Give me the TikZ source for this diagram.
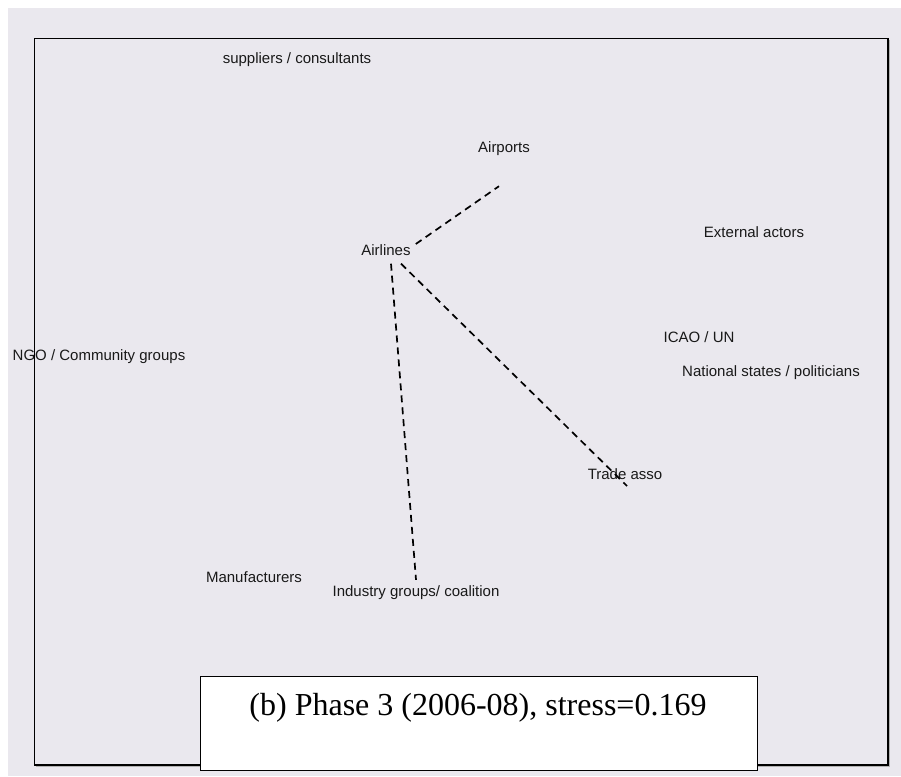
\documentclass[tikz,border=0pt]{standalone}
\usepackage{fontspec}
\setmainfont{Liberation Sans}
\newfontfamily\captionserif{Liberation Serif}
\definecolor{panelgray}{RGB}{234,232,238}
\definecolor{labelink}{RGB}{25,25,25}
\begin{document}
\begin{tikzpicture}[x=1pt,y=-1pt,
  actor/.style={inner sep=0pt,text=labelink,font=\fontsize{15}{18}\selectfont},
  tie/.style={line width=1.7pt,dash pattern=on 7pt off 5pt},
  frame/.style={draw=black,line width=1.4pt}]
% page and plotting panel
\useasboundingbox (0,0) rectangle (901,776);
\fill[white] (0,0) rectangle (901,776);
\fill[panelgray] (8,8) rectangle (901,776);
\draw[frame] (34.5,38.5) rectangle (888,765);
\draw[gray!60,line width=1pt] (889.5,40) -- (889.5,766.5) -- (36,766.5);

% actor labels
\node[actor] (sup) at (297,60) {suppliers / consultants};
\node[actor] (ap)  at (504,149) {Airports};
\node[actor] (al)  at (386,250) {Airlines};
\node[actor] (ext) at (754,232) {External actors};
\node[actor] (icao) at (699,337) {ICAO / UN};
\node[actor] (nat) at (771,373) {National states / politicians};
\node[actor] (ngo) at (99,357) {NGO / Community groups};
\node[actor] (ta)  at (625,474) {Trade asso};
\node[actor] (man) at (254,577) {Manufacturers};
\node[actor] (ind) at (416,593) {Industry groups/ coalition};

% end points of the ties
\coordinate (apfoot) at ([shift={(-5,30)}]ap.south);
\coordinate (tafoot) at ([shift={(2,12)}]ta.center);
\coordinate (indtop) at ([shift={(0,-6)}]ind.north);

\draw[tie] ([shift={(5,-6)}]al.east) -- (apfoot);
\draw[tie] ([shift={(5,8)}]al.south) -- (indtop);
\draw[tie] ([shift={(15,8)}]al.south) -- (tafoot);

% caption box
\node[draw=black,line width=1.4pt,fill=white,minimum width=557pt,minimum height=94pt,
      inner sep=0pt,anchor=north west] (cap) at (200,676) {};
\node[inner sep=0pt,font=\captionserif\fontsize{32}{38}\selectfont,anchor=base]
  (captext) at (478,715) {(b) Phase 3 (2006-08), stress=0.169};
\end{tikzpicture}
\end{document}
